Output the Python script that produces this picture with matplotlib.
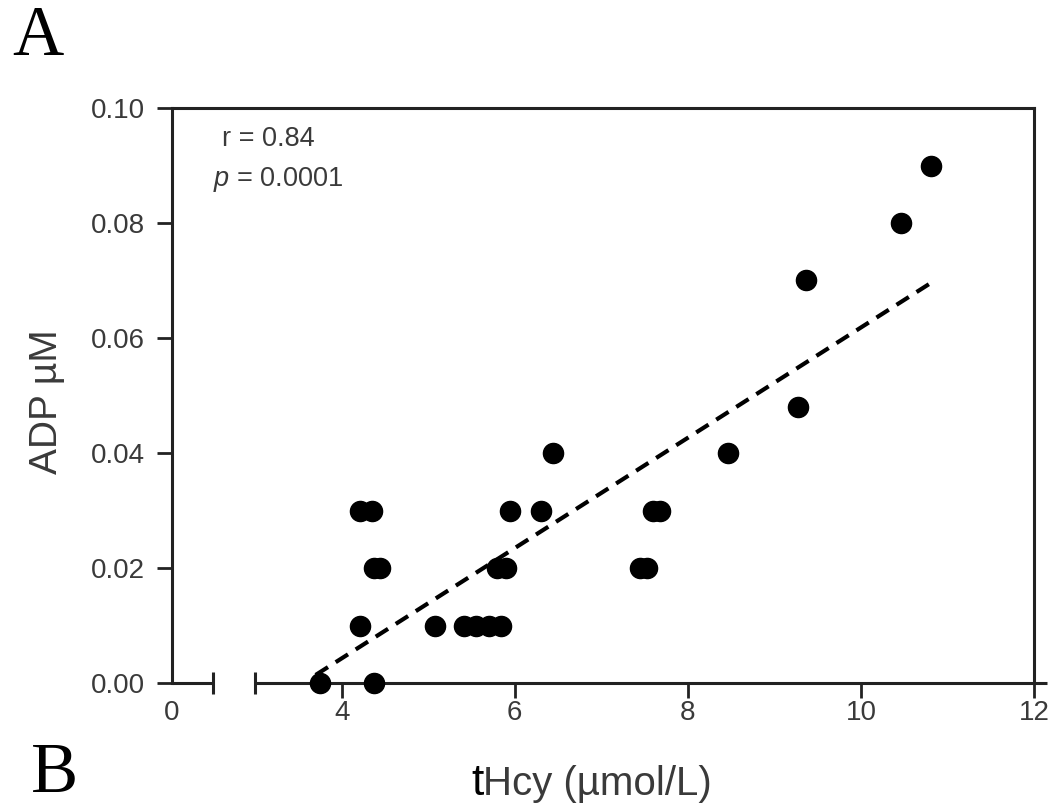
import numpy as np
import matplotlib
matplotlib.use("Agg")
from matplotlib import pyplot

pyplot.rcParams["font.family"] = ["Liberation Sans", "DejaVu Sans"]
pyplot.rcParams["mathtext.fontset"] = "custom"
pyplot.rcParams["mathtext.rm"] = "Liberation Sans"
pyplot.rcParams["mathtext.it"] = "Liberation Sans:italic"

# data (tHcy in umol/L, ADP in uM)
thcy = [3.75, 4.37, 4.21, 4.21, 4.35, 4.37, 4.44, 5.08, 5.41, 5.55, 5.70,
        5.84, 5.79, 5.90, 5.95, 6.30, 6.44, 7.45, 7.53, 7.60, 7.68, 8.46,
        9.27, 9.36, 10.46, 10.81]
adp = [0.00, 0.00, 0.01, 0.03, 0.03, 0.02, 0.02, 0.01, 0.01, 0.01, 0.01,
       0.01, 0.02, 0.02, 0.03, 0.03, 0.04, 0.02, 0.02, 0.03, 0.03, 0.04,
       0.048, 0.07, 0.08, 0.09]

# regression line end points
fit_x = [3.70, 10.79]
fit_y = [0.0014, 0.0694]

r_text = "r = 0.84"
p_text = r"$\it{p}$ = 0.0001"

xticks = [0, 4, 6, 8, 10, 12]
yticks = [0.00, 0.02, 0.04, 0.06, 0.08, 0.10]

# broken x axis: 0..brk_lo, short gap, brk_hi..12
brk_lo, brk_hi, gap = 0.47, 3.0, 0.49
shift = brk_hi - brk_lo - gap


def fwd(v):
    v = np.asarray(v, dtype=float)
    mid = brk_lo + (v - brk_lo) * gap / (brk_hi - brk_lo)
    return np.where(v <= brk_lo, v, np.where(v >= brk_hi, v - shift, mid))


def inv(t):
    t = np.asarray(t, dtype=float)
    mid = brk_lo + (t - brk_lo) * (brk_hi - brk_lo) / gap
    return np.where(t <= brk_lo, t, np.where(t >= brk_lo + gap, t + shift, mid))


dark = "#222222"
txt = "#3a3a3a"

fig = pyplot.figure(figsize=(10.55, 8.08), dpi=100)
ax = fig.add_axes([172 / 1055, 1 - 683 / 808, 862 / 1055, 575 / 808])

ax.set_xscale("function", functions=(fwd, inv))
ax.set_xlim(0, 12)
ax.set_ylim(0, 0.10)

ax.plot(fit_x, fit_y, color="black", lw=3, dashes=(3.5, 2.2), zorder=2)
ax.plot(thcy, adp, ls="none", marker="o", ms=14.5, color="black",
        mec="black", clip_on=False, zorder=3)

# frame
for side in ("top", "left", "right"):
    ax.spines[side].set_linewidth(2.2)
    ax.spines[side].set_color(dark)
ax.spines["bottom"].set_visible(False)
ax.plot([0, brk_lo], [0, 0], color=dark, lw=2.2, clip_on=False,
        solid_capstyle="butt", zorder=1)
ax.plot([brk_hi, 12.15], [0, 0], color=dark, lw=2.2, clip_on=False,
        solid_capstyle="butt", zorder=1)
ax.plot([brk_lo, brk_hi], [0, 0], ls="none", marker="|", ms=16, mew=2.2,
        color=dark, clip_on=False, zorder=1)

ax.set_xticks(xticks)
ax.set_xticklabels([str(v) for v in xticks])
ax.set_yticks(yticks)
ax.set_yticklabels(["%.2f" % v for v in yticks])
ax.tick_params(axis="both", direction="out", length=11, width=2,
               color=dark, labelsize=20, labelcolor=txt)
ax.tick_params(axis="x", pad=1)
ax.tick_params(axis="y", pad=8.5)
ax.xaxis.get_major_ticks()[0].tick1line.set_visible(False)

# correlation statistics
ax.text(0.058, 0.934, r_text, transform=ax.transAxes, fontsize=19.5,
        color=txt, va="baseline")
ax.text(0.048, 0.864, p_text, transform=ax.transAxes, fontsize=19.5,
        color=txt, va="baseline")

# axis labels
fig.text(47 / 1055, 1 - 402 / 808, "ADP µM", rotation=90, ha="center",
         va="center", fontsize=28, color=txt)
fig.text(471 / 1055, 1 - 795 / 808, "t", fontsize=32, color="black",
         va="baseline", ha="left")
fig.text(483 / 1055, 1 - 795 / 808, "Hcy (µmol/L)", fontsize=29,
         color=txt, va="baseline", ha="left")

# panel letters
fig.text(12 / 1055, 1 - 55 / 808, "A", fontsize=51, color="black",
         family="Liberation Serif", va="baseline")
fig.text(31 / 1055, 1 - 792 / 808, "B", fontsize=51, color="black",
         family="Liberation Serif", va="baseline")

fig.savefig("out.png", dpi=100)
